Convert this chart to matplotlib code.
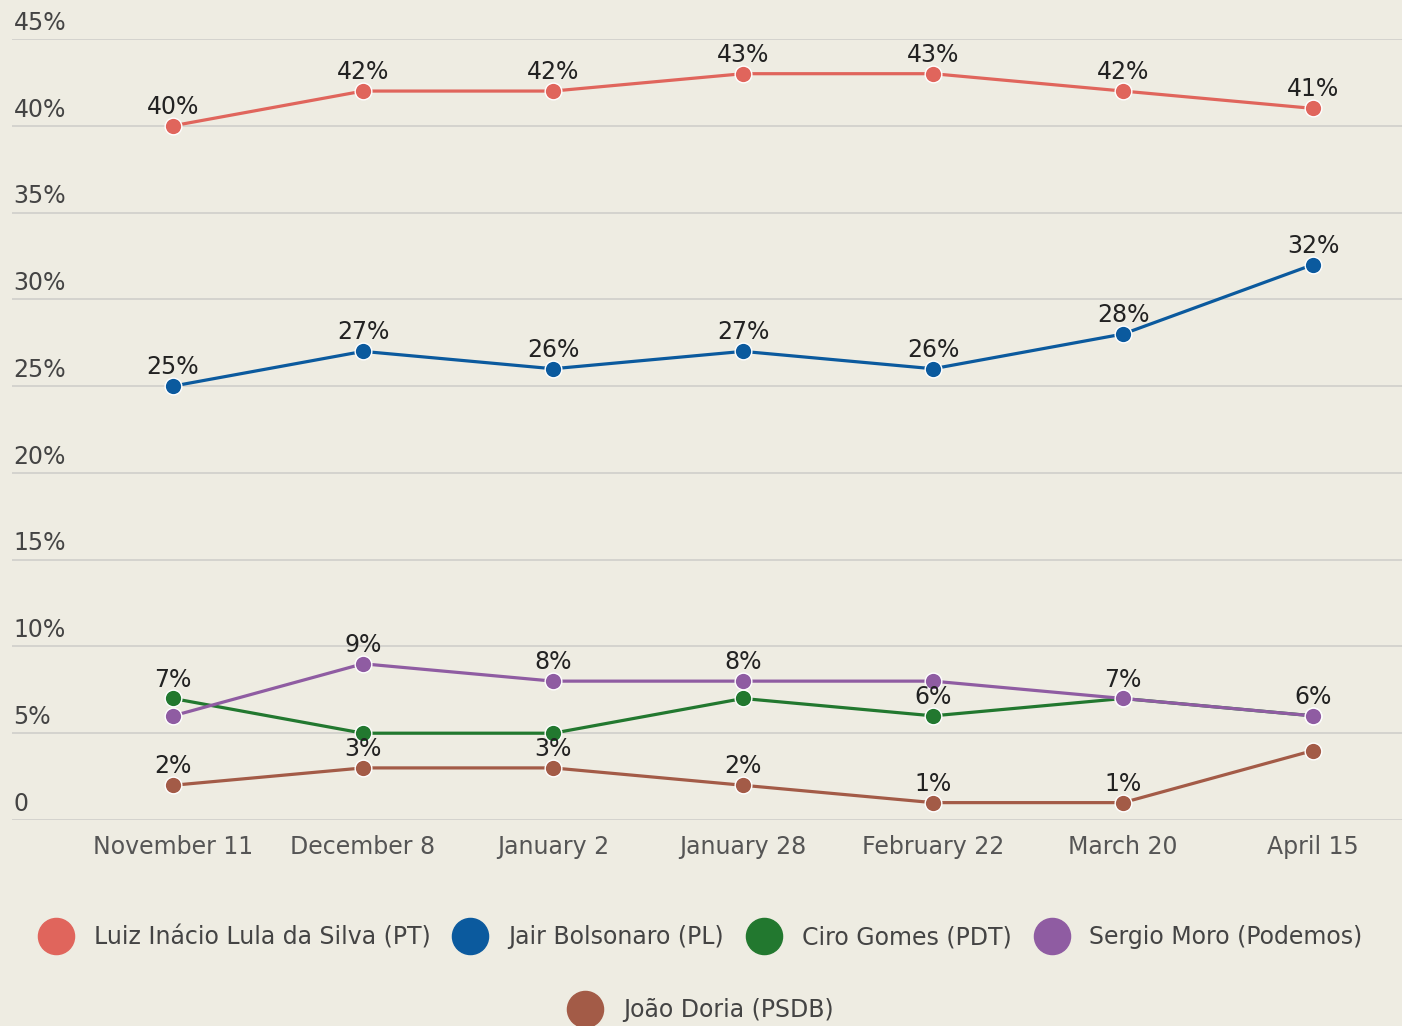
import matplotlib.pyplot as plt
from matplotlib.lines import Line2D

plt.rcParams['font.family'] = ['DejaVu Sans']

dates = ["November 11", "December 8", "January 2", "January 28",
         "February 22", "March 20", "April 15"]

names = ["Luiz Inácio Lula da Silva (PT)", "Jair Bolsonaro (PL)",
         "Ciro Gomes (PDT)", "Sergio Moro (Podemos)", "João Doria (PSDB)"]
lula = [40, 42, 42, 43, 43, 42, 41]
bolsonaro = [25, 27, 26, 27, 26, 28, 32]
ciro = [7, 5, 5, 7, 6, 7, 6]
moro = [6, 9, 8, 8, 8, 7, 6]
doria = [2, 3, 3, 2, 1, 1, 4]
series = [lula, bolsonaro, ciro, moro, doria]

# labels the original hides because they collide
hidden = [[], [], [1, 2, 3, 5, 6], [0, 4], [6]]

colors = ["#e0655c", "#0b5a9e", "#22782f", "#8f5ca2", "#a35b47"]
bg = "#eeece2"

fig = plt.figure(figsize=(14.02, 10.26), dpi=100, facecolor=bg)
ax = fig.add_axes([0.0086, 0.2008, 0.9914, 0.7612])
ax.set_facecolor(bg)

x = list(range(len(dates)))
for vals, col, hid in zip(series, colors, hidden):
    ax.plot(x, vals, color=col, lw=2.3, marker='o', ms=12,
            mec='white', mew=1.0, zorder=3, clip_on=False)
    for i, v in enumerate(vals):
        if i in hid:
            continue
        ax.annotate(f"{v}%", (i, v), xytext=(0, 5), textcoords='offset points',
                    ha='center', va='bottom', fontsize=17, color='#222222',
                    zorder=5)

ax.set_xlim(-0.847, 6.468)
ax.set_ylim(0, 45)
yt = list(range(0, 50, 5))
ax.set_yticks(yt)
ax.set_yticklabels([])
ax.tick_params(axis='y', length=0)
ax.grid(axis='y', color='#cfcfca', lw=1.2)
ax.set_axisbelow(True)
for s in ax.spines.values():
    s.set_visible(False)

for v in yt:
    lab = "0" if v == 0 else f"{v}%"
    ax.annotate(lab, (0, v), xycoords=ax.get_yaxis_transform(),
                xytext=(1, 3), textcoords='offset points',
                ha='left', va='bottom', fontsize=17, color='#444444')

ax.set_xticks(x)
ax.set_xticklabels(dates, fontsize=17, color='#555555')
ax.tick_params(axis='x', length=0, pad=11)

handles = [Line2D([], [], ls='none', marker='o', ms=26, color=c, mec=c)
           for c in colors]
leg_kw = dict(frameon=False, fontsize=17, handlelength=1.4, handletextpad=0.9,
              columnspacing=1.0, loc='center', labelcolor='#444444')
fig.legend(handles[:4], names[:4], ncol=4, bbox_to_anchor=(0.5, 0.0867), **leg_kw)
fig.legend(handles[4:], names[4:], ncol=1, bbox_to_anchor=(0.5, 0.0156), **leg_kw)

fig.savefig("out.png", dpi=100, facecolor=bg)
